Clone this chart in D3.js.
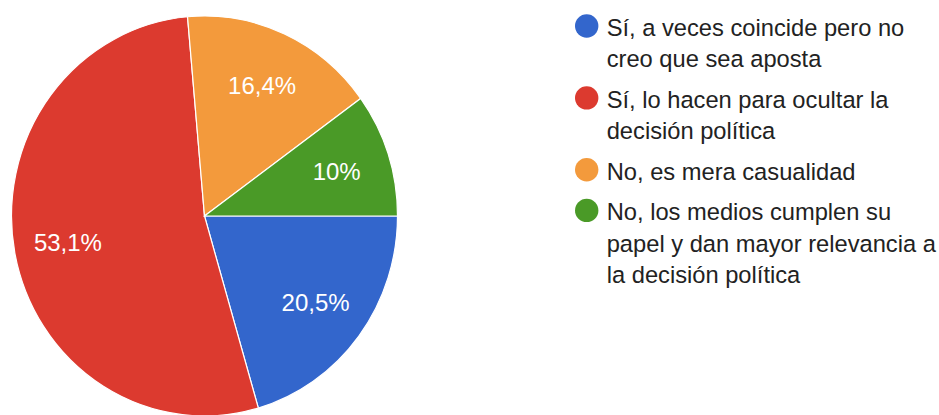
<!DOCTYPE html>
<html>
<head>
<meta charset="utf-8">
<script src="https://cdn.jsdelivr.net/npm/d3@7"></script>
<style>
  body { margin: 0; background: #fff; }
  svg { display: block; }
</style>
</head>
<body>
<div id="chart"></div>
<script>
// answers, in drawing order (clockwise from 3 o'clock)
const answers = ["Sí, a veces coincide pero no creo que sea aposta",
                 "Sí, lo hacen para ocultar la decisión política",
                 "No, es mera casualidad",
                 "No, los medios cumplen su papel y dan mayor relevancia a la decisión política"]
const percents = [20.5, 53.1, 16.4, 10]
const pctLabels = ["20,5%", "53,1%", "16,4%", "10%"]
// legend text as it wraps in the picture
const legendLines = [["Sí, a veces coincide pero no", "creo que sea aposta"],
                     ["Sí, lo hacen para ocultar la", "decisión política"],
                     ["No, es mera casualidad"],
                     ["No, los medios cumplen su", "papel y dan mayor relevancia a", "la decisión política"]]
const colors = ["#3366cc", "#dc3a2f", "#f39a3c", "#4a9a27"]

const width = 939
const height = 415
const cx = 204.5, cy = 216
const r = 193
const yStretch = 200 / 193

const svg = d3.select("#chart").append("svg")
    .attr("width", width)
    .attr("height", height)

const color = d3.scaleOrdinal().domain(answers).range(colors)

const pie = d3.pie()
    .value(function(d, i) { return percents[i] })
    .sort(null)
    .startAngle(Math.PI / 2)
    .endAngle(Math.PI / 2 + 2 * Math.PI)

const arcs = pie(answers)

const arc = d3.arc().innerRadius(0).outerRadius(r)
const labelArc = d3.arc().innerRadius(r * 0.72).outerRadius(r * 0.72)

const g = svg.append("g")
    .attr("transform", "translate(" + cx + "," + cy + ") scale(1," + yStretch + ")")

g.selectAll("path")
    .data(arcs)
    .enter()
    .append("path")
    .attr("d", arc)
    .attr("fill", function(d) { return color(d.data) })
    .attr("stroke", "#fff")
    .attr("stroke-width", 1.2)
    .attr("vector-effect", "non-scaling-stroke")

// percent labels (kept outside the stretched group so text is not squashed)
svg.append("g")
    .selectAll("text")
    .data(arcs)
    .enter()
    .append("text")
    .attr("x", function(d) { return cx + labelArc.centroid(d)[0] })
    .attr("y", function(d) { return cy + labelArc.centroid(d)[1] * yStretch })
    .attr("dy", "0.36em")
    .attr("text-anchor", "middle")
    .style("font-family", "'Liberation Sans', Arial, sans-serif")
    .style("font-size", "24px")
    .style("fill", "#fff")
    .text(function(d, i) { return pctLabels[i] })

// legend
const lineH = 31.3, itemGap = 9.3
const legend = svg.append("g")
let y = 36
answers.forEach(function(a, i) {
    const item = legend.append("g")
    item.append("circle")
        .attr("cx", 586.7)
        .attr("cy", y - 10)
        .attr("r", 11.7)
        .attr("fill", color(a))
    legendLines[i].forEach(function(line, j) {
        item.append("text")
            .attr("x", 606.7)
            .attr("y", y + j * lineH)
            .style("font-family", "'Liberation Sans', Arial, sans-serif")
            .style("font-size", "23.7px")
            .style("fill", "#222")
            .text(line)
    })
    y += legendLines[i].length * lineH + itemGap
})
</script>
</body>
</html>
